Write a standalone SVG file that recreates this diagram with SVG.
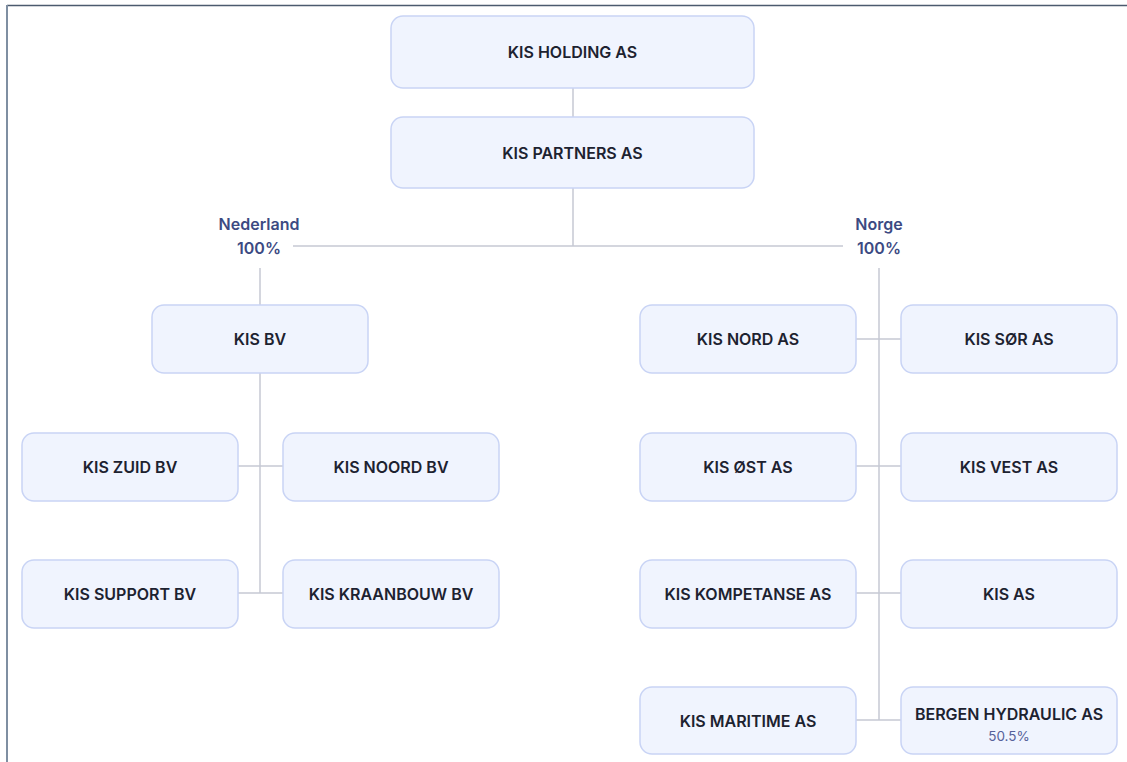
<svg xmlns="http://www.w3.org/2000/svg" width="1127" height="762" viewBox="0 0 1127 762">
<style>
.box{fill:#f0f4fe;stroke:#c9d4f5;stroke-width:1.5}
.t{font-family:Inter,"Noto Sans","Liberation Sans",sans-serif;font-weight:600;font-size:16px;fill:#1d2230;text-anchor:middle}
.lbl{font-family:Inter,"Noto Sans","Liberation Sans",sans-serif;font-weight:600;font-size:16px;fill:#3c4a82;text-anchor:middle}
.pct{font-family:Inter,"Noto Sans","Liberation Sans",sans-serif;font-weight:400;font-size:13.5px;fill:#55619a;text-anchor:middle}
.c{stroke:#c6c9d4;stroke-width:1.5;fill:none}
</style>
<rect width="1127" height="762" fill="#ffffff"/>
<line x1="7" y1="5.5" x2="1127" y2="5.5" stroke="#4b5a6e" stroke-width="1.5"/>
<line x1="7" y1="5" x2="7" y2="762" stroke="#7f8fa2" stroke-width="2"/>
<g id="connectors">
<path class="c" d="M573 88V117M573 188V246M293 246H843M260 268V305M260 373V593M238 466H283M238 593H283M879 268V720M856 339H901M856 466H901M856 593H901M856 720H901"/>
</g>
<g id="label-nl"><text class="lbl" x="259" y="230">Nederland</text><text class="lbl" x="259" y="254">100%</text></g>
<g id="label-no"><text class="lbl" x="879" y="230">Norge</text><text class="lbl" x="879" y="254">100%</text></g>
<g id="n-holding"><rect class="box" x="391" y="16" width="363" height="72" rx="12"/><text class="t" x="572.5" y="58">KIS HOLDING AS</text></g>
<g id="n-partners"><rect class="box" x="391" y="117" width="363" height="71" rx="12"/><text class="t" x="572.5" y="159">KIS PARTNERS AS</text></g>
<g id="n-bv"><rect class="box" x="152" y="305" width="216" height="68" rx="12"/><text class="t" x="260" y="345">KIS BV</text></g>
<g id="n-zuid"><rect class="box" x="22" y="433" width="216" height="68" rx="12"/><text class="t" x="130" y="473">KIS ZUID BV</text></g>
<g id="n-noord"><rect class="box" x="283" y="433" width="216" height="68" rx="12"/><text class="t" x="391" y="473">KIS NOORD BV</text></g>
<g id="n-support"><rect class="box" x="22" y="560" width="216" height="68" rx="12"/><text class="t" x="130" y="600">KIS SUPPORT BV</text></g>
<g id="n-kraanbouw"><rect class="box" x="283" y="560" width="216" height="68" rx="12"/><text class="t" x="391" y="600">KIS KRAANBOUW BV</text></g>
<g id="n-nord"><rect class="box" x="640" y="305" width="216" height="68" rx="12"/><text class="t" x="748" y="345">KIS NORD AS</text></g>
<g id="n-sor"><rect class="box" x="901" y="305" width="216" height="68" rx="12"/><text class="t" x="1009" y="345">KIS SØR AS</text></g>
<g id="n-ost"><rect class="box" x="640" y="433" width="216" height="68" rx="12"/><text class="t" x="748" y="473">KIS ØST AS</text></g>
<g id="n-vest"><rect class="box" x="901" y="433" width="216" height="68" rx="12"/><text class="t" x="1009" y="473">KIS VEST AS</text></g>
<g id="n-kompetanse"><rect class="box" x="640" y="560" width="216" height="68" rx="12"/><text class="t" x="748" y="600">KIS KOMPETANSE AS</text></g>
<g id="n-kisas"><rect class="box" x="901" y="560" width="216" height="68" rx="12"/><text class="t" x="1009" y="600">KIS AS</text></g>
<g id="n-maritime"><rect class="box" x="640" y="687" width="216" height="67" rx="12"/><text class="t" x="748" y="727">KIS MARITIME AS</text></g>
<g id="n-bergen"><rect class="box" x="901" y="687" width="216" height="67" rx="12"/><text class="t" x="1009" y="720">BERGEN HYDRAULIC AS</text><text class="pct" x="1009" y="741">50.5%</text></g>
</svg>
